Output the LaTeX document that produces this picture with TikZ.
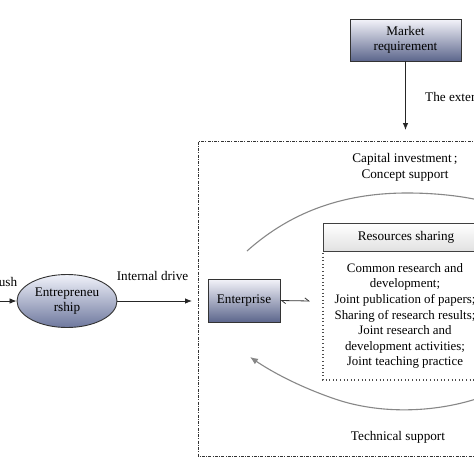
\documentclass[tikz,border=0pt]{standalone}
\usepackage{fontspec}
\setmainfont{Liberation Serif}
\usetikzlibrary{arrows.meta,shapes.geometric}
\definecolor{boxtop}{RGB}{244,244,250}
\definecolor{boxbot}{RGB}{92,102,140}
\definecolor{elltop}{RGB}{240,242,250}
\definecolor{ellbot}{RGB}{110,120,158}
\definecolor{arcgrey}{RGB}{135,135,135}
\begin{document}
\begin{tikzpicture}[x=1pt,y=-1pt,
  every node/.style={font=\fontsize{13.2}{15.6}\selectfont, inner sep=0pt, text=black},
  gradbox/.style={draw=black!80, line width=0.9pt, top color=boxtop, bottom color=boxbot, align=center},
  headbox/.style={draw=black!75, line width=0.8pt, top color=white, bottom color=black!12, align=center},
  arr/.style={-{Latex[length=7pt,width=5.5pt]}, line width=0.8pt, black!85},
  arcline/.style={arcgrey, line width=1.1pt},
  outerbox/.style={black!80, line width=0.8pt, dash pattern=on 3pt off 1.3pt on 0.9pt off 1.3pt},
  dotbox/.style={black!70, line width=1.1pt, dash pattern=on 1pt off 2.6pt}
]
\clip (0,0) rectangle (474,474);
\fill[white] (0,0) rectangle (474,474);

% outer dash-dot frame
\draw[outerbox] (490,141) -- (198,141) -- (198,456) -- (490,456);

% nodes
\node[gradbox, minimum width=111, minimum height=42] (market) at (405.5,40) {Market\\requirement};
\node[gradbox, minimum width=72, minimum height=43] (enterprise) at (244,300.5) {Enterprise};
\node[ellipse, draw=black!80, line width=0.9pt, top color=elltop, bottom color=ellbot,
      minimum width=100, minimum height=53, align=center] (entre) at (67,301) {Entrepreneu\\rship};
\node[headbox, minimum width=166, minimum height=28.5] (res) at (406,237.5) {Resources sharing};
\draw[dotbox] (323,253) -- (323,380) -- (490,380);
\node[align=center, font=\fontsize{12.9}{15.6}\selectfont] (content) at (405,316) {Common research and\\development;\\Joint publication of papers;\\Sharing of research results;\\Joint research and\\development activities;\\Joint teaching practice};

% coordinates
\coordinate (lstart) at (-5,301);
\coordinate (mtip) at (405.5,130);
\coordinate (dtip) at (192,301);
\coordinate (rtip) at (310,301);
\coordinate (topA) at (247,251);
\coordinate (topB) at (490,203);
\coordinate (botA) at (490,394);
\coordinate (botB) at (250,357);

% connectors
\draw[arr] (lstart) -- (entre.west);
\draw[arr] (entre.east) -- (dtip);
\draw[arr] (market.south) -- (mtip);
\draw[{Straight Barb[harpoon,length=4pt,width=6pt]}-{Straight Barb[harpoon,length=4pt,width=6pt]}, line width=0.8pt, black!80] (enterprise.east) -- (rtip);

\draw[arcline] (topA) .. controls (295,208) and (350,193) .. (407,193) .. controls (440,193) and (470,197) .. (topB);
\draw[arcline, -{Latex[length=8pt,width=6.5pt]}] (botA) .. controls (445,412) and (385,416) .. (335,399) .. controls (300,387) and (272,372) .. (botB);

% labels
\node (ush) at (8,282) {ush};
\node (idrive) at (152.5,276) {Internal drive};
\node[anchor=west] (ext) at (425,97) {The exter};
\node[align=center] (capital) at (405,167.5) {Capital investment\,;\\Concept support};
\node (tech) at (398,437) {Technical support};
\end{tikzpicture}
\end{document}
